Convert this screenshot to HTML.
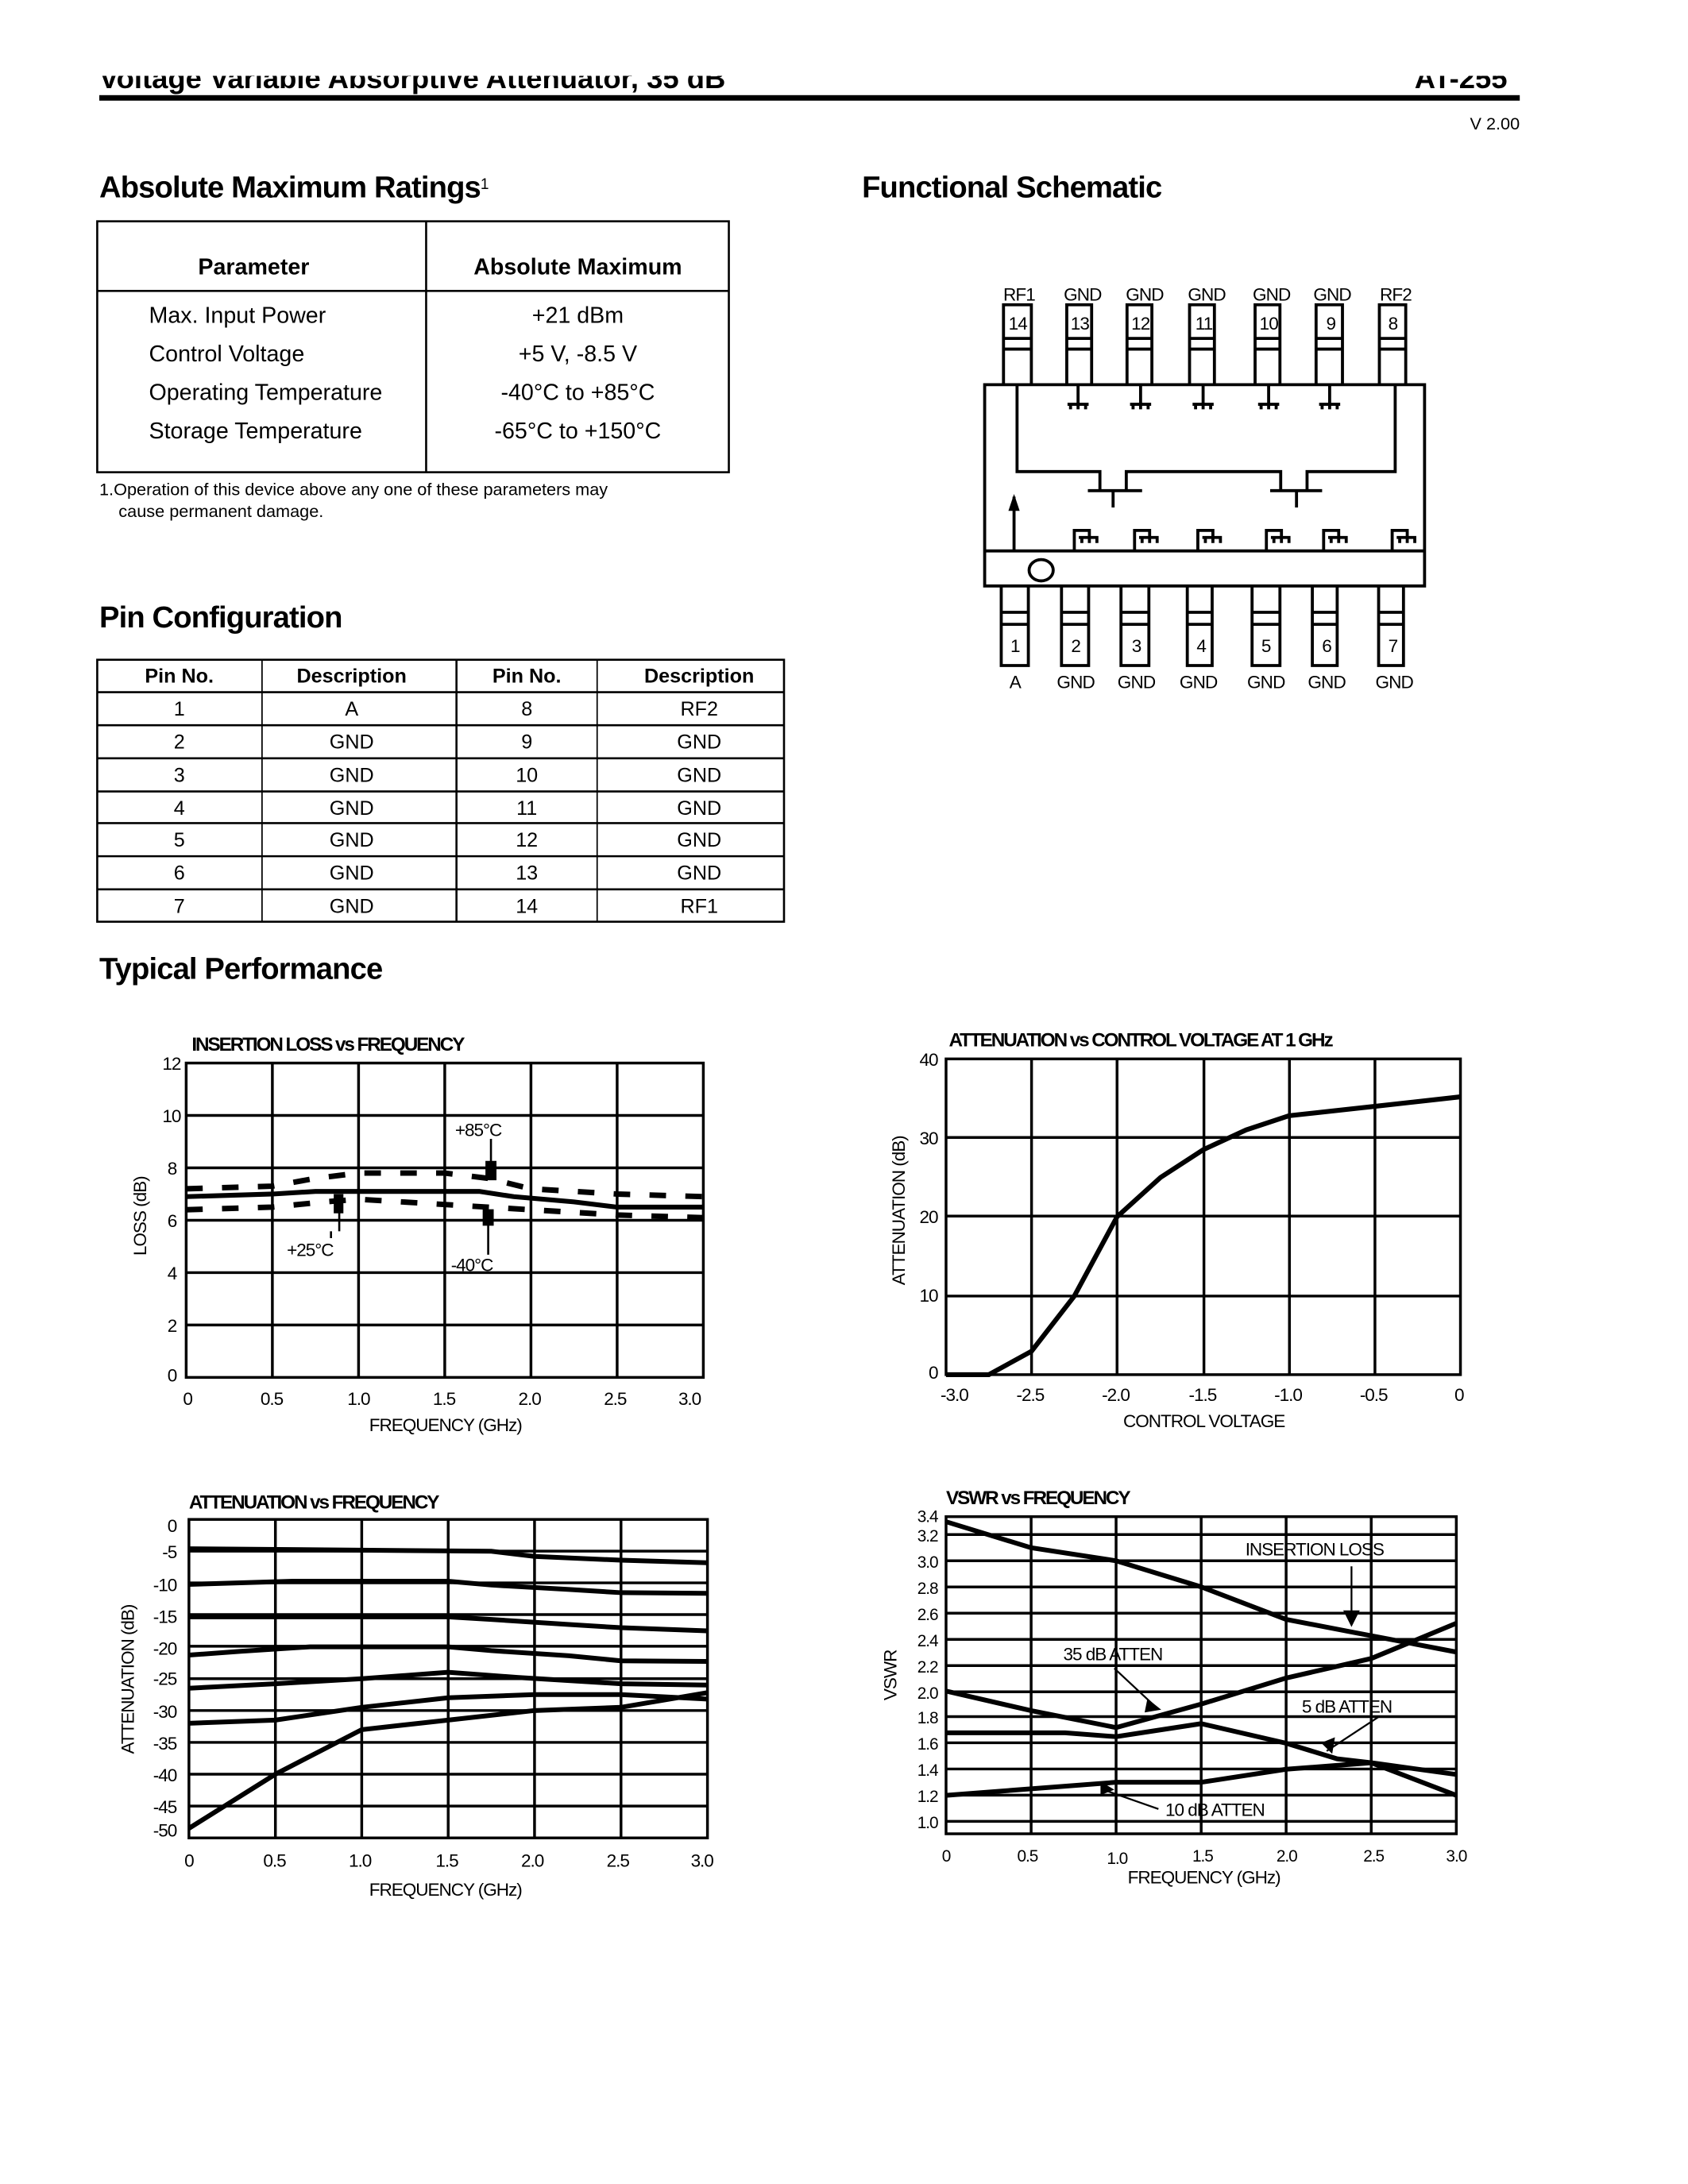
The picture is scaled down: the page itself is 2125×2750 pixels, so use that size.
<!DOCTYPE html>
<html><head><meta charset="utf-8"><style>
html,body{margin:0;padding:0;background:#fff}
svg{display:block}
text{font-family:"Liberation Sans",sans-serif;fill:#000}
.ns,.ns *{vector-effect:non-scaling-stroke;fill:none;stroke:#000}
</style></head><body>
<svg width="2125" height="2750" viewBox="0 0 1224 1584" xmlns="http://www.w3.org/2000/svg">
<defs><clipPath id="hc"><rect x="0" y="55" width="1224" height="30"/></clipPath></defs>
<rect width="1224" height="1584" fill="#fff"/>
<g clip-path="url(#hc)">
<text x="72" y="64" font-size="21" font-weight="bold">Voltage Variable Absorptive Attenuator, 35 dB</text>
<text x="1093" y="64" font-size="21" font-weight="bold" text-anchor="end">AT-255</text>
</g>
<rect x="72" y="69" width="1030" height="4" fill="#000"/>
<text x="1102" y="94" font-size="12.5" text-anchor="end">V 2.00</text>

<text x="72" y="143" font-size="22" font-weight="bold" letter-spacing="-0.5">Absolute Maximum Ratings<tspan font-size="11" font-weight="normal" dy="-6">1</tspan></text>
<text x="625" y="143" font-size="22" font-weight="bold" letter-spacing="-0.5">Functional Schematic</text>
<text x="72" y="455" font-size="22" font-weight="bold" letter-spacing="-0.5">Pin Configuration</text>
<text x="72" y="710" font-size="22" font-weight="bold" letter-spacing="-0.5">Typical Performance</text>

<g stroke="#000" stroke-width="1.5" fill="none">
<rect x="70.5" y="160.5" width="458" height="182"/>
<line x1="70" y1="211" x2="528" y2="211"/>
<line x1="309" y1="160" x2="309" y2="342"/>
</g>
<g font-size="16.5">
<text x="184" y="199" font-weight="bold" text-anchor="middle">Parameter</text>
<text x="419" y="199" font-weight="bold" text-anchor="middle">Absolute Maximum</text>
<text x="108" y="234">Max. Input Power</text>
<text x="108" y="262">Control Voltage</text>
<text x="108" y="290">Operating Temperature</text>
<text x="108" y="318">Storage Temperature</text>
<text x="419" y="234" text-anchor="middle">+21 dBm</text>
<text x="419" y="262" text-anchor="middle">+5 V, -8.5 V</text>
<text x="419" y="290" text-anchor="middle">-40°C to +85°C</text>
<text x="419" y="318" text-anchor="middle">-65°C to +150°C</text>
</g>
<text x="72" y="359" font-size="12.5">1.Operation of this device above any one of these parameters may</text>
<text x="86" y="375" font-size="12.5">cause permanent damage.</text>

<g stroke="#000" stroke-width="1.5" fill="none">
<rect x="70.5" y="478.5" width="498" height="190"/>
<line x1="70" y1="502" x2="568" y2="502"/><line x1="70" y1="526" x2="568" y2="526"/>
<line x1="70" y1="550" x2="568" y2="550"/><line x1="70" y1="574" x2="568" y2="574"/>
<line x1="70" y1="597" x2="568" y2="597"/><line x1="70" y1="621" x2="568" y2="621"/>
<line x1="70" y1="645" x2="568" y2="645"/>
<line x1="190" y1="478" x2="190" y2="668" stroke-width="1"/>
<line x1="331" y1="478" x2="331" y2="668"/>
<line x1="433" y1="478" x2="433" y2="668" stroke-width="1"/>
</g>
<g font-size="14.5" text-anchor="middle">
<text x="130" y="495" font-weight="bold">Pin No.</text><text x="255" y="495" font-weight="bold">Description</text>
<text x="382" y="495" font-weight="bold">Pin No.</text><text x="507" y="495" font-weight="bold">Description</text>
<text x="130" y="519">1</text><text x="255" y="519">A</text><text x="382" y="519">8</text><text x="507" y="519">RF2</text>
<text x="130" y="543">2</text><text x="255" y="543">GND</text><text x="382" y="543">9</text><text x="507" y="543">GND</text>
<text x="130" y="567">3</text><text x="255" y="567">GND</text><text x="382" y="567">10</text><text x="507" y="567">GND</text>
<text x="130" y="591">4</text><text x="255" y="591">GND</text><text x="382" y="591">11</text><text x="507" y="591">GND</text>
<text x="130" y="614">5</text><text x="255" y="614">GND</text><text x="382" y="614">12</text><text x="507" y="614">GND</text>
<text x="130" y="638">6</text><text x="255" y="638">GND</text><text x="382" y="638">13</text><text x="507" y="638">GND</text>
<text x="130" y="662">7</text><text x="255" y="662">GND</text><text x="382" y="662">14</text><text x="507" y="662">RF1</text>
</g>

<g transform="translate(714,279) scale(0.2731,0.2033) translate(-362,-450)" stroke-width="3.8">
<g class="ns" stroke-width="3.8">
<rect x="362" y="450" width="1168" height="718"/>
<line x1="362" y1="1043" x2="1530" y2="1043"/>
<path d="M412 450V165H486V450 M412 285H486 M412 323H486"/>
<path d="M580 450V165H646V450 M580 285H646 M580 323H646"/>
<path d="M740 450V165H806V450 M740 285H806 M740 323H806"/>
<path d="M906 450V165H972V450 M906 285H972 M906 323H972"/>
<path d="M1080 450V165H1146V450 M1080 285H1146 M1080 323H1146"/>
<path d="M1242 450V165H1312V450 M1242 285H1312 M1242 323H1312"/>
<path d="M1410 450V165H1480V450 M1410 285H1480 M1410 323H1480"/>
<path d="M406 1168V1452H478V1168 M406 1262H478 M406 1305H478"/>
<path d="M566 1168V1452H638V1168 M566 1262H638 M566 1305H638"/>
<path d="M724 1168V1452H798V1168 M724 1262H798 M724 1305H798"/>
<path d="M900 1168V1452H966V1168 M900 1262H966 M900 1305H966"/>
<path d="M1072 1168V1452H1146V1168 M1072 1262H1146 M1072 1305H1146"/>
<path d="M1232 1168V1452H1298V1168 M1232 1262H1298 M1232 1305H1298"/>
<path d="M1408 1168V1452H1474V1168 M1408 1262H1474 M1408 1305H1474"/>
<path d="M448 450V760H668V828 M738 828V760H1148V828 M1218 828V760H1452V450"/>
<path d="M636 828H780 M703 828V888 M1120 828H1258 M1190 828V888"/>
<path d="M440 1043V850"/>
<path d="M610 450V520 M582 520H638 M590 520V538 M610 520V538 M630 520V538"/>
<path d="M776 450V520 M748 520H804 M756 520V538 M776 520V538 M796 520V538"/>
<path d="M942 450V520 M914 520H970 M922 520V538 M942 520V538 M962 520V538"/>
<path d="M1116 450V520 M1088 520H1144 M1096 520V538 M1116 520V538 M1136 520V538"/>
<path d="M1278 450V520 M1250 520H1306 M1258 520V538 M1278 520V538 M1298 520V538"/>
<path d="M600 1043V970H640V995 M612 995H664 M620 995V1015 M640 995V1015 M660 995V1015"/>
<path d="M760 1043V970H800V995 M772 995H824 M780 995V1015 M800 995V1015 M820 995V1015"/>
<path d="M928 1043V970H968V995 M940 995H992 M948 995V1015 M968 995V1015 M988 995V1015"/>
<path d="M1110 1043V970H1150V995 M1122 995H1174 M1130 995V1015 M1150 995V1015 M1170 995V1015"/>
<path d="M1262 1043V970H1302V995 M1274 995H1326 M1282 995V1015 M1302 995V1015 M1322 995V1015"/>
<path d="M1444 1043V970H1484V995 M1456 995H1508 M1464 995V1015 M1484 995V1015 M1504 995V1015"/>
<ellipse cx="512" cy="1112" rx="32" ry="38"/>
</g>
<path d="M440 840L425 900H455Z" fill="#000"/>
</g>
<g font-size="13" text-anchor="middle" letter-spacing="-0.5">
<text x="739" y="218">RF1</text><text x="785" y="218">GND</text><text x="830" y="218">GND</text><text x="875" y="218">GND</text><text x="922" y="218">GND</text><text x="966" y="218">GND</text><text x="1012" y="218">RF2</text>
<text x="738" y="239">14</text><text x="783" y="239">13</text><text x="827" y="239">12</text><text x="873" y="239">11</text><text x="920" y="239">10</text><text x="965" y="239">9</text><text x="1010" y="239">8</text>
<text x="736" y="473">1</text><text x="780" y="473">2</text><text x="824" y="473">3</text><text x="871" y="473">4</text><text x="918" y="473">5</text><text x="962" y="473">6</text><text x="1010" y="473">7</text>
<text x="736" y="499">A</text><text x="780" y="499">GND</text><text x="824" y="499">GND</text><text x="869" y="499">GND</text><text x="918" y="499">GND</text><text x="962" y="499">GND</text><text x="1011" y="499">GND</text>
</g>

<text x="139" y="762" font-size="14" font-weight="bold" letter-spacing="-1.2">INSERTION LOSS vs FREQUENCY</text>
<g stroke="#000" stroke-width="2" fill="none">
<rect x="135" y="771" width="375" height="228"/>
<path d="M197.5 771V999 M260 771V999 M322.5 771V999 M385 771V999 M447.5 771V999"/>
<path d="M135 809H510 M135 847H510 M135 885H510 M135 923H510 M135 961H510"/>
<polyline stroke-width="4" stroke-dasharray="12,14" points="135,862.2 197.5,860.3 228.75,854.6 260,850.8 322.5,850.8 353.75,854.6 385,862.2 447.5,866 510,867.9"/>
<polyline stroke-width="3.5" points="135,867.9 197.5,866 228.75,864.1 347.5,864.1 372.5,867.9 416.25,871.7 447.5,875.5 510,875.5"/>
<polyline stroke-width="4" stroke-dasharray="12,14" points="135,877.4 197.5,875.5 235,871.7 260,869.8 322.5,873.6 385,877.4 447.5,881.2 510,883.1"/>
<path stroke-width="1.5" d="M356 826V850 M246 868V893 M240 893V898 M354 878V910"/>
</g>
<path d="M352 842h8v14h-8z M242 866h7v14h-7z M350 877h8v12h-8z" fill="#000"/>
<g font-size="13" letter-spacing="-0.6">
<text x="330" y="824">+85°C</text><text x="208" y="911">+25°C</text><text x="327" y="922">-40°C</text>
<g text-anchor="end"><text x="131" y="776">12</text><text x="131" y="814">10</text><text x="128" y="852">8</text><text x="128" y="890">6</text><text x="128" y="928">4</text><text x="128" y="966">2</text><text x="128" y="1002">0</text></g>
<g text-anchor="middle"><text x="136" y="1019">0</text><text x="197" y="1019">0.5</text><text x="260" y="1019">1.0</text><text x="322" y="1019">1.5</text><text x="384" y="1019">2.0</text><text x="446" y="1019">2.5</text><text x="500" y="1019">3.0</text>
<text x="323" y="1038">FREQUENCY (GHz)</text>
<text transform="translate(106,882) rotate(-90)">LOSS (dB)</text></g>
</g>

<text x="688" y="759" font-size="14" font-weight="bold" letter-spacing="-1.2">ATTENUATION vs CONTROL VOLTAGE AT 1 GHz</text>
<g stroke="#000" stroke-width="2" fill="none">
<rect x="686" y="768" width="373" height="229"/>
<path d="M748 768V997 M810 768V997 M873 768V997 M935 768V997 M997 768V997"/>
<path d="M686 825H1059 M686 882H1059 M686 940H1059"/>
<polyline stroke-width="3.5" points="686,997 717,997 748,980 779,940 810,882.5 841.5,854 872.6,833.8 903.6,819.5 934.7,809.2 996.9,802.4 1059,795.5"/>
</g>
<g font-size="13" letter-spacing="-0.6">
<g text-anchor="end"><text x="680" y="773">40</text><text x="680" y="830">30</text><text x="680" y="887">20</text><text x="680" y="944">10</text><text x="680" y="1000">0</text></g>
<g text-anchor="middle"><text x="692" y="1016">-3.0</text><text x="747" y="1016">-2.5</text><text x="809" y="1016">-2.0</text><text x="872" y="1016">-1.5</text><text x="934" y="1016">-1.0</text><text x="996" y="1016">-0.5</text><text x="1058" y="1016">0</text>
<text x="873" y="1035">CONTROL VOLTAGE</text>
<text transform="translate(656,878) rotate(-90)">ATTENUATION (dB)</text></g>
</g>

<text x="137" y="1094" font-size="14" font-weight="bold" letter-spacing="-1.2">ATTENUATION vs FREQUENCY</text>
<g stroke="#000" stroke-width="2" fill="none">
<rect x="137" y="1102" width="376" height="231"/>
<path d="M199.7 1102V1333 M262.3 1102V1333 M325 1102V1333 M387.6 1102V1333 M450.3 1102V1333"/>
<path d="M137 1125H513 M137 1148H513 M137 1171H513 M137 1194H513 M137 1217.5H513 M137 1240.6H513 M137 1263.7H513 M137 1286.8H513 M137 1309.9H513"/>
</g>
<g transform="translate(137,1102) scale(125.3,4.62)" stroke-width="6">
<polyline class="ns" points="0,4.6 1.75,5.0 2,5.8 2.5,6.4 3,6.8"/>
<polyline class="ns" points="0,10.2 0.6,9.7 1.5,9.7 1.75,10.3 2.2,11 2.5,11.5 3,11.6"/>
<polyline class="ns" points="0,15.3 1.5,15.3 1.75,15.7 2.2,16.5 2.5,17 3,17.5"/>
<polyline class="ns" points="0,21.3 0.3,20.7 0.7,20 1.5,20 1.75,20.6 2.2,21.4 2.5,22.2 3,22.3"/>
<polyline class="ns" points="0,26.5 0.5,25.8 1,25 1.5,24 1.9,24.8 2.5,25.8 3,26"/>
<polyline class="ns" points="0,32 0.5,31.5 1,29.5 1.5,28 2,27.5 2.5,27.5 3,28.2"/>
<polyline class="ns" points="0,48.5 0.5,40 1,33 1.5,31.5 2,30 2.5,29.5 3,27.2"/>
</g>
<g font-size="13" letter-spacing="-0.6">
<g text-anchor="end"><text x="128" y="1111">0</text><text x="128" y="1130">-5</text><text x="128" y="1154">-10</text><text x="128" y="1177">-15</text><text x="128" y="1200">-20</text><text x="128" y="1222">-25</text><text x="128" y="1246">-30</text><text x="128" y="1269">-35</text><text x="128" y="1292">-40</text><text x="128" y="1315">-45</text><text x="128" y="1332">-50</text></g>
<g text-anchor="middle"><text x="137" y="1354">0</text><text x="199" y="1354">0.5</text><text x="261" y="1354">1.0</text><text x="324" y="1354">1.5</text><text x="386" y="1354">2.0</text><text x="448" y="1354">2.5</text><text x="509" y="1354">3.0</text>
<text x="323" y="1375">FREQUENCY (GHz)</text>
<text transform="translate(97,1218) rotate(-90)">ATTENUATION (dB)</text></g>
</g>

<text x="686" y="1091" font-size="14" font-weight="bold" letter-spacing="-1.2">VSWR vs FREQUENCY</text>
<g stroke="#000" stroke-width="2" fill="none">
<rect x="686" y="1100" width="370" height="230"/>
<path d="M747.7 1100V1330 M809.3 1100V1330 M871 1100V1330 M932.6 1100V1330 M994.3 1100V1330"/>
<path d="M686 1113H1056 M686 1132H1056 M686 1151H1056 M686 1170H1056 M686 1189H1056 M686 1208H1056 M686 1227H1056 M686 1245H1056 M686 1264H1056 M686 1283H1056 M686 1302H1056 M686 1321H1056"/>
</g>
<g transform="translate(686,1321) scale(123.3,-94.5) translate(0,-1)" stroke-width="6">
<polyline class="ns" points="0,3.3 0.5,3.1 1,3.0 1.5,2.8 2,2.55 2.4,2.45 2.6,2.4 3,2.3"/>
<polyline class="ns" points="0,2.0 0.5,1.85 1,1.72 1.5,1.9 2,2.1 2.5,2.25 3,2.52"/>
<polyline class="ns" points="0,1.68 0.7,1.68 1,1.65 1.5,1.75 2,1.6 2.3,1.48 2.5,1.45 3,1.2"/>
<polyline class="ns" points="0,1.2 0.5,1.25 1,1.3 1.5,1.3 2,1.4 2.5,1.45 3,1.36"/>
</g>
<g stroke="#000" stroke-width="1.3" fill="none">
<path d="M980 1136V1175 M808 1210L838 1238 M1000 1245L962 1270 M800 1298L840 1312"/>
</g>
<path d="M974 1168h12l-6 12z M832 1232l10 8-12 2z M958 1264l10 -4-2 12z M798 1292l10 6-10 4z" fill="#000"/>
<g font-size="13" letter-spacing="-0.6">
<text x="903" y="1128">INSERTION LOSS</text><text x="771" y="1204">35 dB ATTEN</text><text x="944" y="1242">5 dB ATTEN</text><text x="845" y="1317">10 dB ATTEN</text>
<g text-anchor="end" font-size="12"><text x="680" y="1104">3.4</text><text x="680" y="1118">3.2</text><text x="680" y="1137">3.0</text><text x="680" y="1156">2.8</text><text x="680" y="1175">2.6</text><text x="680" y="1194">2.4</text><text x="680" y="1213">2.2</text><text x="680" y="1232">2.0</text><text x="680" y="1250">1.8</text><text x="680" y="1269">1.6</text><text x="680" y="1288">1.4</text><text x="680" y="1307">1.2</text><text x="680" y="1326">1.0</text></g>
<g text-anchor="middle" font-size="12"><text x="686" y="1350">0</text><text x="745" y="1350">0.5</text><text x="810" y="1352">1.0</text><text x="872" y="1350">1.5</text><text x="933" y="1350">2.0</text><text x="996" y="1350">2.5</text><text x="1056" y="1350">3.0</text></g>
<text x="873" y="1366" text-anchor="middle">FREQUENCY (GHz)</text>
<text transform="translate(650,1215) rotate(-90)" text-anchor="middle">VSWR</text>
</g>
</svg>
</body></html>
